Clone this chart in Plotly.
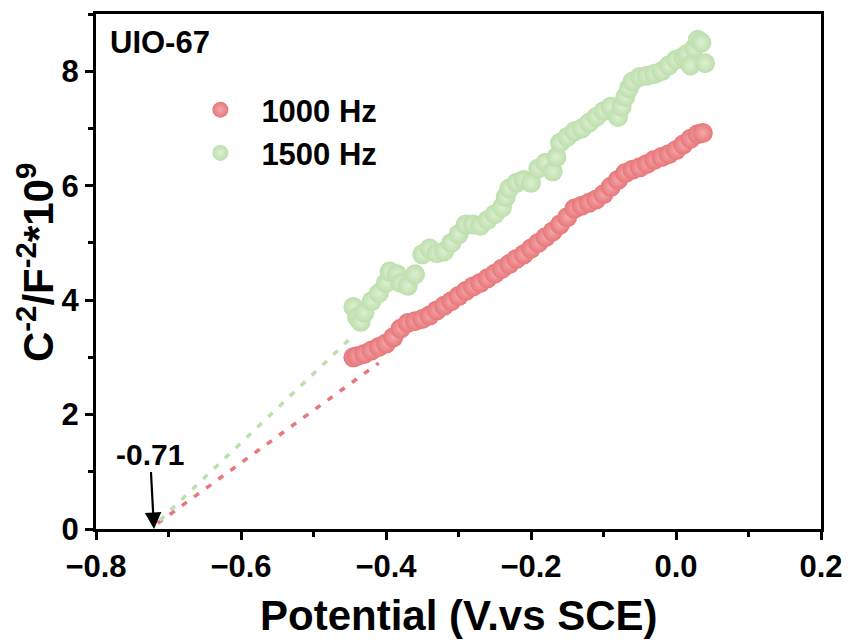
import plotly.graph_objects as go

# ---- data ----
x_1000 = [-0.445, -0.44, -0.43, -0.42, -0.41, -0.40, -0.39, -0.38, -0.37, -0.36,
          -0.35, -0.34, -0.33, -0.32, -0.31, -0.30, -0.29, -0.28, -0.27, -0.26,
          -0.25, -0.24, -0.23, -0.22, -0.21, -0.20, -0.19, -0.18, -0.17, -0.16,
          -0.15, -0.14, -0.13, -0.12, -0.11, -0.10, -0.09, -0.08, -0.07, -0.06,
          -0.05, -0.04, -0.03, -0.02, -0.01, 0.00, 0.01, 0.02, 0.03, 0.037]
y_1000 = [3.00, 3.02, 3.06, 3.12, 3.18, 3.24, 3.35, 3.50, 3.60, 3.63,
          3.67, 3.73, 3.82, 3.90, 3.98, 4.07, 4.16, 4.24, 4.30, 4.38,
          4.46, 4.55, 4.63, 4.72, 4.80, 4.90, 5.00, 5.10, 5.20, 5.32,
          5.45, 5.60, 5.65, 5.70, 5.76, 5.85, 5.98, 6.10, 6.22, 6.28,
          6.32, 6.38, 6.45, 6.50, 6.55, 6.62, 6.72, 6.82, 6.90, 6.92]

x_1500 = [-0.445, -0.44, -0.435, -0.43, -0.42, -0.41, -0.40, -0.395, -0.385, -0.38,
          -0.37, -0.36, -0.35, -0.34, -0.33, -0.32, -0.31, -0.30, -0.29, -0.28,
          -0.27, -0.26, -0.25, -0.24, -0.235, -0.23, -0.22, -0.21, -0.20, -0.19,
          -0.18, -0.17, -0.165, -0.16, -0.15, -0.14, -0.13, -0.12, -0.11, -0.10,
          -0.09, -0.08, -0.075, -0.07, -0.065, -0.06, -0.05, -0.04, -0.03, -0.02,
          -0.01, 0.00, 0.01, 0.015, 0.02, 0.025, 0.03, 0.035, 0.04]
y_1500 = [3.88, 3.70, 3.62, 3.78, 3.98, 4.12, 4.30, 4.50, 4.45, 4.30,
          4.25, 4.45, 4.80, 4.90, 4.82, 4.85, 5.00, 5.15, 5.32, 5.32,
          5.30, 5.40, 5.50, 5.62, 5.80, 5.95, 6.05, 6.10, 6.05, 6.30,
          6.40, 6.25, 6.50, 6.75, 6.85, 6.95, 7.00, 7.10, 7.20, 7.30,
          7.38, 7.20, 7.38, 7.55, 7.70, 7.82, 7.90, 7.92, 7.95, 8.00,
          8.10, 8.20, 8.25, 8.30, 8.10, 8.40, 8.55, 8.50, 8.14]

# extrapolated fit lines (dotted)
fit_x_1000 = [-0.715, -0.41]
fit_y_1000 = [0.10, 2.90]
fit_x_1500 = [-0.712, -0.445]
fit_y_1500 = [0.15, 3.38]

x_ticks = [-0.8, -0.6, -0.4, -0.2, 0.0, 0.2]
y_ticks = [0, 2, 4, 6, 8]
intercept_label = "-0.71"
intercept_x = -0.72
x_title = "Potential (V.vs SCE)"
y_title = "C<sup>-2</sup>/F<sup>-2</sup>*10<sup>9</sup>"

RED = "#E8767A"
RED_HI = "#F3A9AB"
GREEN = "#BDDFAD"
GREEN_HI = "#DDEFD3"
FONT = "Liberation Sans, Arial, sans-serif"

fig = go.Figure()

fig.add_trace(go.Scatter(x=fit_x_1000, y=fit_y_1000, mode="lines",
                         line=dict(color=RED, width=3.5, dash="6px,9px"),
                         showlegend=False, hoverinfo="skip"))
fig.add_trace(go.Scatter(x=fit_x_1500, y=fit_y_1500, mode="lines",
                         line=dict(color=GREEN, width=3.5, dash="6px,9px"),
                         showlegend=False, hoverinfo="skip"))

fig.add_trace(go.Scatter(x=x_1000, y=y_1000, mode="markers", name="1000 Hz",
                         marker=dict(size=20, color=RED, line=dict(width=0),
                                     gradient=dict(type="radial", color=RED_HI))))
fig.add_trace(go.Scatter(x=x_1500, y=y_1500, mode="markers", name="1500 Hz",
                         marker=dict(size=20, color=GREEN, line=dict(width=0),
                                     gradient=dict(type="radial", color=GREEN_HI))))

axis_common = dict(
    showline=True, linecolor="black", linewidth=3, mirror=True,
    ticks="outside", ticklen=8, tickwidth=3, tickcolor="black",
    showgrid=False, zeroline=False, automargin=False,
    tickfont=dict(family=FONT, size=31, color="black", weight="bold"),
)

fig.update_xaxes(
    range=[-0.8, 0.2], tickvals=x_ticks, tickformat=".1f",
    minor=dict(dtick=0.1, ticks="outside", ticklen=5, tickwidth=3, tickcolor="black"),
    **axis_common)
fig.update_yaxes(
    range=[0, 9], tickvals=y_ticks,
    minor=dict(dtick=1, ticks="outside", ticklen=5, tickwidth=3, tickcolor="black"),
    **axis_common)

title_font = dict(family=FONT, size=42, color="black", weight="bold")
fig.add_annotation(x=0.5, y=-0.167, xref="paper", yref="paper", text=x_title,
                   showarrow=False, xanchor="center", yanchor="middle", font=title_font)
fig.add_annotation(x=-0.083, y=0.518, xref="paper", yref="paper", text=y_title,
                   showarrow=False, xanchor="center", yanchor="middle",
                   textangle=-90, font=title_font)

fig.add_annotation(x=intercept_x, y=0, xref="x", yref="y", text=intercept_label,
                   showarrow=True, ax=-4, ay=-75, arrowhead=2, arrowsize=1.5,
                   arrowwidth=2.2, arrowcolor="black", standoff=0,
                   font=dict(family=FONT, size=30, color="black", weight="bold"))
fig.add_annotation(x=0.016, y=0.944, xref="paper", yref="paper", text="UIO-67",
                   showarrow=False, xanchor="left", yanchor="middle",
                   font=dict(family=FONT, size=31, color="black", weight="bold"))

fig.update_layout(
    width=848, height=642,
    margin=dict(l=96, r=27, t=14, b=113),
    plot_bgcolor="white", paper_bgcolor="white",
    legend=dict(x=0.115, y=0.866, xanchor="left", yanchor="top",
                bgcolor="rgba(0,0,0,0)", borderwidth=0,
                itemwidth=72, tracegroupgap=0,
                font=dict(family=FONT, size=31, color="black", weight="bold")),
)

fig.write_html("out.html")
